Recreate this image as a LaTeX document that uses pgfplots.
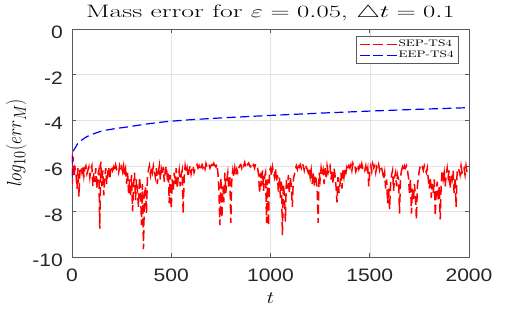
\documentclass[border=0pt]{standalone}
\usepackage{pgfplots}
\pgfplotsset{compat=1.18}
\usepackage{fontspec}
\usepackage{graphicx}
\newfontfamily\ticksf{Liberation Sans}
\definecolor{axgray}{gray}{0.35}
\definecolor{tickc}{gray}{0.15}
\newcommand{\tl}[1]{\scalebox{1.17}[1]{\ticksf #1}}
\begin{document}
\begin{tikzpicture}
\begin{axis}[
 scale only axis, width=397pt, height=228pt,
 xmin=0, xmax=2000, ymin=-10, ymax=0,
 xtick={0,500,1000,1500,2000},
 xticklabels={\tl{0},\tl{500},\tl{1000},\tl{1500},\tl{2000}},
 ytick={-10,-8,-6,-4,-2,0},
 yticklabels={\tl{-10},\tl{-8},\tl{-6},\tl{-4},\tl{-2},\tl{0}},
 tick label style={font=\fontsize{18}{20}\selectfont, text=tickc},
 xticklabel style={anchor=north, inner sep=0pt, yshift=-12pt},
 yticklabel style={anchor=east, inner sep=0pt, xshift=-9pt, yshift=-3.5pt},
 tick align=inside, major tick length=4pt,
 grid=major, major grid style={gray!22, line width=0.5pt},
 axis line style={axgray, line width=0.6pt},
 every tick/.style={axgray, line width=0.6pt},
 title={\scalebox{1.54}[1]{Mass error for $\varepsilon = 0.05$, $\triangle t = 0.1$}},
 title style={font=\fontsize{18}{20}\selectfont, at={(axis description cs:0.5,1)}, anchor=base, yshift=5.7pt, inner sep=0pt},
 xlabel={\scalebox{1.2}[1]{$t$}},
 xlabel style={font=\fontsize{19}{20}\selectfont, at={(axis description cs:0.5,0)}, anchor=base, yshift=-46pt, inner sep=0pt},
 ylabel={\scalebox{1}[1.2]{$log_{10}(err_M)$}},
 ylabel style={font=\fontsize{19}{20}\selectfont, at={(axis description cs:-0.1277,0.5)}, anchor=base, inner sep=0pt},
 legend style={at={(rel axis cs:1,1)}, anchor=north east, xshift=-11pt, yshift=-7.3pt,
   draw=axgray, line width=0.5pt, fill=white, font=\fontsize{9.5}{10}\selectfont,
   inner xsep=2.5pt, inner ysep=2pt, row sep=0pt, nodes={inner sep=1.5pt}},
 legend cell align=left,
 legend image code/.code={\draw[#1, line width=0.9pt, dash pattern=on 10pt off 3.5pt] (0pt,0pt) -- (37pt,0pt);},
]
\addplot[color=red, line width=1.5pt, dash pattern=on 9pt off 4.5pt] coordinates {
(0,-5.45)(2,-6.8)(5,-5.6)(10,-6.5)(15,-6.1)(20,-6.3)(25,-7.0)(30,-6.1)(35,-7.35)(40,-6.2)(45,-6.05)
(50,-6.3)(55,-5.98)(60,-6.45)(65,-6.1)(70,-6.0)(75,-6.35)(80,-6.2)(85,-6.05)(90,-6.5)(95,-6.15)
(100,-6.0)(105,-6.9)(110,-6.3)(115,-6.7)(120,-6.1)(125,-7.0)(130,-6.4)(135,-6.2)(140,-8.75)(145,-5.82)
(150,-6.9)(155,-6.2)(160,-7.3)(165,-6.5)(170,-6.1)(175,-6.8)(180,-6.3)(185,-6.05)(190,-6.6)(195,-6.2)
(200,-6.0)(205,-6.2)(210,-6.05)(215,-6.25)(220,-5.97)(225,-6.15)(230,-6.1)(235,-6.3)(240,-6.0)(245,-6.2)
(250,-6.05)(255,-6.26)(260,-6.0)(265,-6.4)(270,-6.15)(275,-6.8)(280,-6.3)(285,-7.2)(290,-6.6)(295,-7.36)
(300,-6.4)(305,-8.0)(310,-6.9)(315,-6.3)(320,-7.5)(325,-6.6)(330,-7.2)(335,-7.8)(340,-6.5)(345,-7.0)
(350,-8.6)(355,-6.8)(360,-9.65)(365,-7.3)(370,-6.9)(375,-8.1)(380,-6.5)(385,-6.2)(390,-6.0)(395,-6.4)
(400,-6.1)(405,-6.3)(410,-6.0)(415,-6.25)(420,-6.5)(425,-6.1)(430,-6.8)(435,-6.3)(440,-6.0)(445,-6.6)
(450,-6.15)(455,-6.4)(460,-6.05)(465,-6.7)(470,-6.2)(475,-6.0)(480,-6.5)(485,-6.3)(490,-7.65)(495,-6.4)
(500,-7.9)(505,-6.6)(510,-7.1)(515,-6.3)(520,-6.8)(525,-6.1)(530,-7.0)(535,-6.5)(540,-6.2)(545,-6.9)
(550,-6.4)(555,-6.2)(560,-8.1)(565,-6.5)(570,-6.0)(575,-6.3)(580,-6.1)(585,-6.5)(590,-6.2)(595,-6.0)
(600,-6.35)(605,-6.1)(610,-6.0)(615,-6.3)(620,-6.15)(625,-6.05)(630,-5.95)(635,-6.1)(640,-6.0)(645,-6.2)
(650,-6.05)(655,-5.95)(660,-6.1)(665,-6.0)(670,-6.15)(675,-5.9)(680,-6.05)(685,-6.0)(690,-5.92)(695,-6.1)
(700,-6.0)(705,-5.95)(710,-6.1)(715,-5.9)(720,-6.0)(725,-6.05)(730,-5.92)(735,-6.3)(740,-7.0)(745,-8.6)
(750,-6.5)(755,-8.3)(760,-6.9)(765,-7.6)(770,-6.3)(775,-7.2)(780,-6.6)(785,-6.3)(790,-7.0)(795,-6.4)
(800,-8.5)(805,-6.6)(810,-6.2)(815,-6.5)(820,-6.1)(825,-6.4)(830,-6.15)(835,-6.3)(840,-6.1)(845,-6.0)
(850,-5.95)(855,-6.1)(860,-5.9)(865,-6.0)(870,-5.85)(875,-6.05)(880,-5.9)(885,-5.95)(890,-5.88)(895,-6.0)
(900,-6.05)(905,-5.9)(910,-6.0)(915,-5.95)(920,-6.1)(925,-5.92)(930,-6.0)(935,-6.1)(940,-6.4)(945,-7.2)
(950,-6.3)(955,-6.9)(960,-6.2)(965,-7.1)(970,-6.5)(975,-6.3)(980,-8.5)(985,-6.6)(990,-8.64)(995,-6.2)
(1000,-6.1)(1005,-6.45)(1010,-6.05)(1015,-6.3)(1020,-6.5)(1025,-6.1)(1030,-6.7)(1035,-6.4)(1040,-7.2)(1045,-6.5)
(1050,-7.4)(1055,-6.6)(1060,-9.05)(1065,-6.8)(1070,-7.3)(1075,-8.45)(1080,-6.6)(1085,-7.0)(1090,-6.4)(1095,-7.2)
(1100,-6.5)(1105,-6.9)(1110,-7.8)(1115,-6.6)(1120,-6.4)(1125,-6.2)(1130,-6.0)(1135,-6.15)(1140,-5.9)(1145,-6.05)
(1150,-5.95)(1155,-6.1)(1160,-5.9)(1165,-6.0)(1170,-6.2)(1175,-5.95)(1180,-6.05)(1185,-6.15)(1190,-6.3)(1195,-6.1)
(1200,-6.5)(1205,-6.2)(1210,-6.8)(1215,-6.3)(1220,-6.9)(1225,-6.4)(1230,-6.6)(1235,-7.0)(1240,-8.5)(1245,-6.3)
(1250,-6.6)(1255,-6.1)(1260,-6.4)(1265,-6.2)(1270,-6.8)(1275,-6.1)(1280,-6.5)(1285,-6.0)(1290,-6.3)(1295,-6.1)
(1300,-6.0)(1305,-6.6)(1310,-6.2)(1315,-6.8)(1320,-6.1)(1325,-6.4)(1330,-6.9)(1335,-7.6)(1340,-6.5)(1345,-7.2)
(1350,-6.8)(1355,-6.3)(1360,-7.0)(1365,-6.2)(1370,-6.5)(1375,-6.1)(1380,-6.3)(1385,-6.05)(1390,-6.2)(1395,-6.0)
(1400,-6.1)(1405,-5.95)(1410,-6.2)(1415,-5.9)(1420,-6.05)(1425,-6.0)(1430,-6.25)(1435,-6.1)(1440,-5.95)(1445,-6.15)
(1450,-6.0)(1455,-6.2)(1460,-5.92)(1465,-6.1)(1470,-6.05)(1475,-6.2)(1480,-6.0)(1485,-6.3)(1490,-6.1)(1495,-6.9)
(1500,-6.2)(1505,-6.0)(1510,-6.25)(1515,-5.92)(1520,-6.1)(1525,-6.0)(1530,-6.3)(1535,-6.05)(1540,-6.15)(1545,-5.95)
(1550,-6.2)(1555,-6.0)(1560,-6.1)(1565,-6.3)(1570,-6.6)(1575,-6.3)(1580,-7.0)(1585,-6.6)(1590,-7.65)(1595,-7.0)
(1600,-7.9)(1605,-6.8)(1610,-6.4)(1615,-6.2)(1620,-7.1)(1625,-6.5)(1630,-6.3)(1635,-6.9)(1640,-6.4)(1645,-6.6)
(1650,-8.1)(1655,-6.5)(1660,-6.2)(1665,-6.05)(1670,-6.2)(1675,-6.0)(1680,-6.1)(1685,-6.0)(1690,-6.2)(1695,-6.5)
(1700,-7.2)(1705,-6.6)(1710,-8.1)(1715,-7.0)(1720,-7.5)(1725,-6.8)(1730,-7.3)(1735,-8.35)(1740,-6.9)(1745,-6.5)
(1750,-6.2)(1755,-6.0)(1760,-6.1)(1765,-6.05)(1770,-6.2)(1775,-6.0)(1780,-6.15)(1785,-6.3)(1790,-6.1)(1795,-6.6)
(1800,-7.0)(1805,-6.5)(1810,-7.4)(1815,-6.8)(1820,-7.2)(1825,-6.6)(1830,-8.2)(1835,-7.1)(1840,-6.7)(1845,-7.5)
(1850,-6.9)(1855,-8.35)(1860,-6.8)(1865,-6.2)(1870,-6.6)(1875,-6.3)(1880,-6.9)(1885,-6.4)(1890,-6.1)(1895,-6.5)
(1900,-6.2)(1905,-7.0)(1910,-6.4)(1915,-6.6)(1920,-6.2)(1925,-7.2)(1930,-6.5)(1935,-7.8)(1940,-6.3)(1945,-6.1)
(1950,-6.2)(1955,-6.4)(1960,-6.0)(1965,-6.3)(1970,-6.2)(1975,-6.1)(1980,-6.4)(1985,-6.0)(1990,-6.3)(1995,-6.25)
(2000,-6.2)
};
\addlegendentry{\scalebox{1.4}[1]{SEP-TS4}}
\addplot[color=blue, line width=1.2pt, dash pattern=on 9pt off 4.5pt] coordinates {
(0,-6.54)(0.5,-5.6)(5,-5.4)(10,-5.3)(20,-5.16)(29,-5.01)(40,-4.93)(54,-4.84)(75,-4.72)(104,-4.61)
(130,-4.53)(155,-4.46)(190,-4.41)(222,-4.36)(269,-4.31)(350,-4.2)(400,-4.14)(477,-4.06)(578,-3.99)
(750,-3.9)(1000,-3.79)(1250,-3.69)(1500,-3.6)(1750,-3.52)(2000,-3.45)
};
\addlegendentry{\scalebox{1.4}[1]{EEP-TS4}}
\coordinate (ll) at (rel axis cs:0,0);
\coordinate (ur) at (rel axis cs:1,1);
\end{axis}
\pgfresetboundingbox
\path ([shift={(-72pt,-54pt)}]ll) rectangle ([shift={(49pt,29pt)}]ur);
\end{tikzpicture}
\end{document}
